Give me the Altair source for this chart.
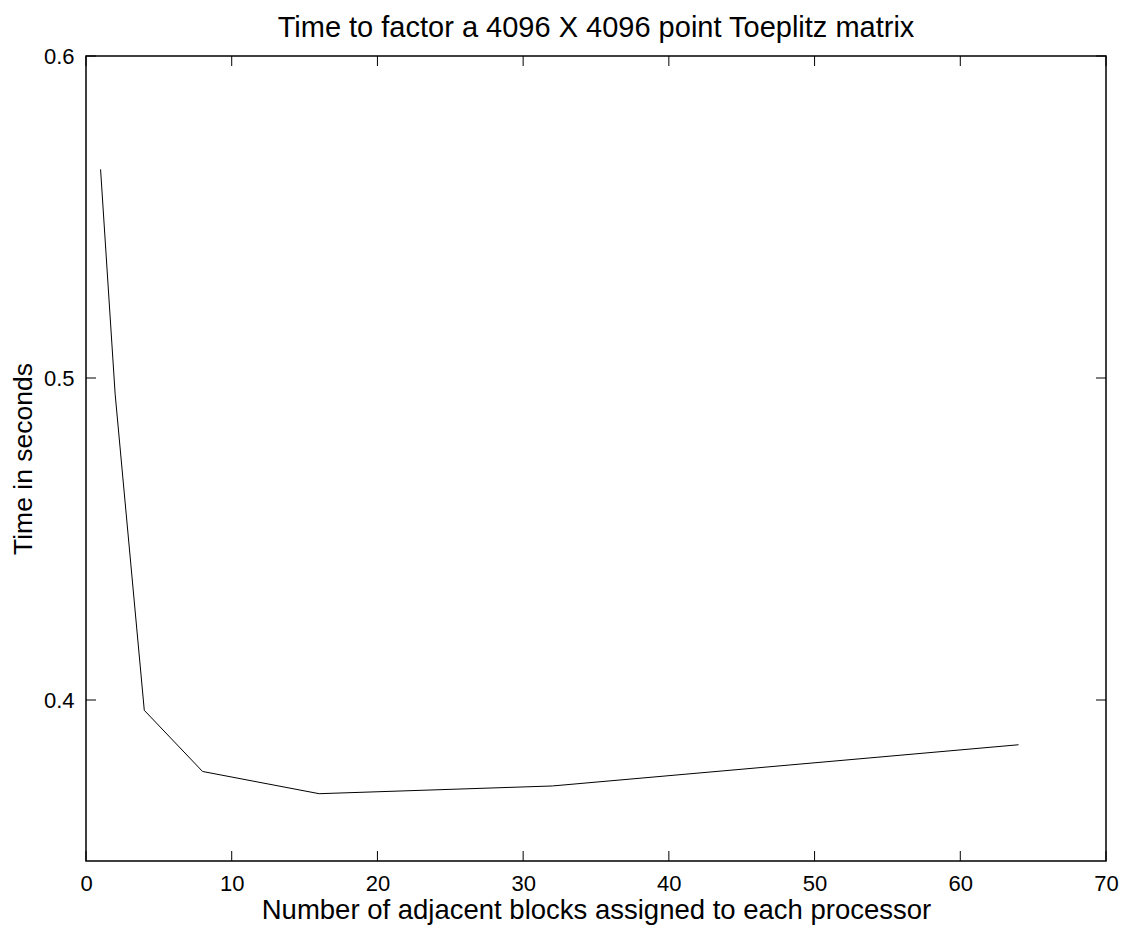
import altair as alt
import pandas as pd

blocks = [1, 2, 4, 8, 16, 32, 64]
seconds = [0.5648, 0.495, 0.3968, 0.3778, 0.3709, 0.3733, 0.3861]

x_ticks = [0, 10, 20, 30, 40, 50, 60, 70]
y_ticks = [0.4, 0.5, 0.6]

W, H = 1020, 805
TICK = 10
FONT = "Liberation Sans"
LABEL_SIZE = 22

df = pd.DataFrame({"blocks": blocks, "seconds": seconds})
xt = pd.DataFrame({"v": x_ticks})
yt = pd.DataFrame({"v": y_ticks})

xs = alt.Scale(domain=[0, 70], nice=False, zero=False)
ys = alt.Scale(domain=[0.35, 0.6], nice=False, zero=False)

line = alt.Chart(df).mark_line(color="black", strokeWidth=1).encode(
    x=alt.X("blocks:Q", scale=xs,
            axis=alt.Axis(values=x_ticks, ticks=False, domain=False, grid=False,
                          labelFontSize=LABEL_SIZE, labelColor="black", labelFont=FONT,
                          labelPadding=12, labelFlush=False,
                          title="Number of adjacent blocks assigned to each processor",
                          titleFontSize=27.5, titleFont=FONT, titleFontWeight="normal",
                          titleColor="black", titlePadding=2)),
    y=alt.Y("seconds:Q", scale=ys,
            axis=alt.Axis(values=y_ticks, format=".1f", ticks=False, domain=False,
                          grid=False, labelFontSize=LABEL_SIZE, labelColor="black",
                          labelFont=FONT, labelPadding=12, labelFlush=False,
                          title="Time in seconds", titleFontSize=26.5, titleFont=FONT,
                          titleFontWeight="normal", titleColor="black",
                          titlePadding=6)),
)

tick_style = dict(color="black", strokeWidth=1)

xb = alt.Chart(xt).mark_rule(**tick_style).encode(
    x=alt.X("v:Q", scale=xs), y=alt.value(H), y2=alt.value(H - TICK))
xtop = alt.Chart(xt).mark_rule(**tick_style).encode(
    x=alt.X("v:Q", scale=xs), y=alt.value(0), y2=alt.value(TICK))
yl = alt.Chart(yt).mark_rule(**tick_style).encode(
    y=alt.Y("v:Q", scale=ys), x=alt.value(0), x2=alt.value(TICK))
yr = alt.Chart(yt).mark_rule(**tick_style).encode(
    y=alt.Y("v:Q", scale=ys), x=alt.value(W), x2=alt.value(W - TICK))

chart = alt.layer(line, xb, xtop, yl, yr).properties(
    width=W, height=H,
    title=alt.TitleParams("Time to factor a 4096 X 4096 point Toeplitz matrix",
                          fontSize=29, font=FONT, fontWeight="normal",
                          color="black", anchor="middle", offset=2),
    autosize=alt.AutoSizeParams(type="none"),
    padding={"left": 78, "top": 48, "right": 20, "bottom": 68},
    background="white",
).configure_view(stroke="black", strokeWidth=1.5)

chart.save("out.html", embed_options={"renderer": "svg", "actions": False})
